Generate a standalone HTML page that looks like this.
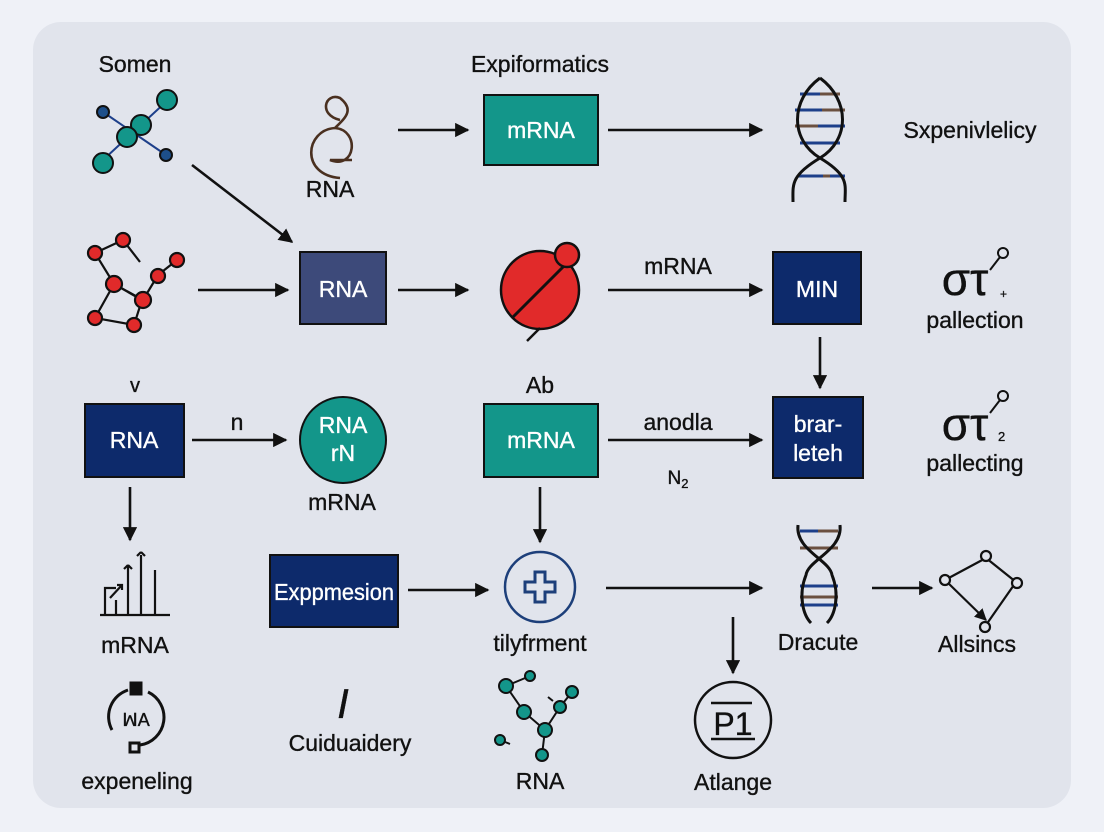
<!DOCTYPE html>
<html><head><meta charset="utf-8"><style>
html,body{margin:0;padding:0;background:#eff1f7;}
svg{display:block;}
text{font-family:"Liberation Sans",sans-serif;fill:#111;stroke:#111;stroke-width:0.35px;}
</style></head><body>
<svg width="1104" height="832" viewBox="0 0 1104 832" xmlns="http://www.w3.org/2000/svg">
<defs>
<marker id="a" viewBox="0 0 10 10" refX="9" refY="5" markerWidth="5.5" markerHeight="5.5" orient="auto"><path d="M0,0L10,5L0,10z" fill="#111"/></marker>
</defs>
<rect x="0" y="0" width="1104" height="832" fill="#eff1f7"/>
<rect x="33" y="22" width="1038" height="786" rx="28" fill="#e1e4ec"/>
<g stroke="#111" stroke-width="2.6" fill="none" marker-end="url(#a)">
<line x1="398" y1="130" x2="468" y2="130"/>
<line x1="608" y1="130" x2="762" y2="130"/>
<line x1="192" y1="165" x2="292" y2="242"/>
<line x1="198" y1="290" x2="288" y2="290"/>
<line x1="398" y1="290" x2="468" y2="290"/>
<line x1="608" y1="290" x2="762" y2="290"/>
<line x1="820" y1="337" x2="820" y2="388"/>
<line x1="192" y1="440" x2="286" y2="440"/>
<line x1="608" y1="440" x2="762" y2="440"/>
<line x1="130" y1="487" x2="130" y2="540"/>
<line x1="540" y1="487" x2="540" y2="542"/>
<line x1="408" y1="590" x2="488" y2="590"/>
<line x1="606" y1="588" x2="762" y2="588"/>
<line x1="872" y1="588" x2="932" y2="588"/>
<line x1="733" y1="617" x2="733" y2="673"/>
</g>
<g font-size="23" text-anchor="middle">
<text x="135" y="72">Somen</text>
<text x="540" y="72">Expiformatics</text>
<text x="330" y="197">RNA</text>
<text x="970" y="138">Sxpenivlelicy</text>
<text x="678" y="274">mRNA</text>
<text x="975" y="328">pallection</text>
<text x="135" y="392" font-size="20">v</text>
<text x="237" y="430">n</text>
<text x="342" y="510">mRNA</text>
<text x="540" y="393">Ab</text>
<text x="678" y="430">anodla</text>
<text x="678" y="484" font-size="19">N<tspan font-size="13" dy="4">2</tspan></text>
<text x="975" y="471">pallecting</text>
<text x="135" y="653">mRNA</text>
<text x="540" y="651">tilyfrment</text>
<text x="818" y="650">Dracute</text>
<text x="977" y="652">Allsincs</text>
<text x="137" y="789">expeneling</text>
<text x="350" y="751">Cuiduaidery</text>
<text x="540" y="789">RNA</text>
<text x="733" y="790">Atlange</text>
</g>
<text x="343" y="718" font-family="Liberation Serif" font-style="italic" font-size="42" text-anchor="middle">I</text>
<text x="965" y="295" font-family="Liberation Serif" font-size="46" text-anchor="middle">στ</text>
<text x="965" y="440" font-family="Liberation Serif" font-size="46" text-anchor="middle">στ</text>
<text x="1000" y="298" font-size="12">+</text><text x="998" y="441" font-size="13">2</text>
<circle cx="1003" cy="253" r="5" fill="none" stroke="#111" stroke-width="2"/><line x1="1000" y1="257" x2="990" y2="270" stroke="#111" stroke-width="2"/>
<circle cx="1003" cy="396" r="5" fill="none" stroke="#111" stroke-width="2"/><line x1="1000" y1="400" x2="990" y2="413" stroke="#111" stroke-width="2"/>
<g style="--w:1">
<rect x="484" y="95" width="114" height="70" fill="#13968a" stroke="#111" stroke-width="2"/>
<text x="541" y="138" font-size="23" text-anchor="middle" style="fill:#fff;stroke:#fff">mRNA</text>
<rect x="300" y="252" width="86" height="72" fill="#3d4a7a" stroke="#111" stroke-width="2"/>
<text x="343" y="297" font-size="23" text-anchor="middle" style="fill:#fff;stroke:#fff">RNA</text>
<rect x="773" y="252" width="88" height="72" fill="#0d2a6b" stroke="#111" stroke-width="2"/>
<text x="817" y="297" font-size="23" text-anchor="middle" style="fill:#fff;stroke:#fff">MIN</text>
<rect x="85" y="404" width="99" height="73" fill="#0d2a6b" stroke="#111" stroke-width="2"/>
<text x="134" y="448" font-size="23" text-anchor="middle" style="fill:#fff;stroke:#fff">RNA</text>
<rect x="484" y="404" width="114" height="73" fill="#13968a" stroke="#111" stroke-width="2"/>
<text x="541" y="448" font-size="23" text-anchor="middle" style="fill:#fff;stroke:#fff">mRNA</text>
<rect x="773" y="397" width="90" height="81" fill="#0d2a6b" stroke="#111" stroke-width="2"/>
<text x="818" y="432" font-size="23" text-anchor="middle" style="fill:#fff;stroke:#fff">brar-</text>
<text x="818" y="461" font-size="23" text-anchor="middle" style="fill:#fff;stroke:#fff">leteh</text>
<rect x="270" y="555" width="128" height="72" fill="#0d2a6b" stroke="#111" stroke-width="2"/>
<text x="334" y="600" font-size="23" text-anchor="middle" style="fill:#fff;stroke:#fff" textLength="120" lengthAdjust="spacingAndGlyphs">Exppmesion</text>
<circle cx="343" cy="440" r="43" fill="#13968a" stroke="#111" stroke-width="2"/>
<text x="343" y="433" font-size="23" text-anchor="middle" style="fill:#fff;stroke:#fff">RNA</text>
<text x="343" y="461" font-size="23" text-anchor="middle" style="fill:#fff;stroke:#fff">rN</text>
</g>
<circle cx="540" cy="290" r="39" fill="#e12a2a" stroke="#111" stroke-width="2.5"/>
<line x1="512" y1="318" x2="570" y2="260" stroke="#111" stroke-width="3"/>
<circle cx="567" cy="255" r="12" fill="#e12a2a" stroke="#111" stroke-width="2.5"/>
<line x1="540" y1="328" x2="527" y2="341" stroke="#111" stroke-width="2.5"/>
<circle cx="540" cy="587" r="35" fill="none" stroke="#1d3f7a" stroke-width="2.5"/>
<path d="M535 572h10v10h10v10h-10v10h-10v-10h-10v-10h10z" fill="none" stroke="#1d3f7a" stroke-width="3"/>
<circle cx="733" cy="720" r="38" fill="none" stroke="#111" stroke-width="2.5"/>
<text x="733" y="735" font-size="32" text-anchor="middle">P1</text>
<line x1="711" y1="703" x2="752" y2="703" stroke="#111" stroke-width="2.5"/>
<line x1="711" y1="739" x2="755" y2="739" stroke="#111" stroke-width="2.5"/>
<path d="M340 178 C300 175 305 130 335 128 C360 130 356 170 330 160 L352 160 M335 128 C345 118 355 110 340 98 C325 92 318 115 340 120" fill="none" stroke="#4a3020" stroke-width="2.6"/>
<g stroke="#1d3f8a" stroke-width="2"><line x1="103" y1="112" x2="166" y2="155"/><line x1="103" y1="160" x2="168" y2="100"/></g>
<g stroke="#111" stroke-width="2">
<circle cx="103" cy="112" r="6" fill="#1d4f8a"/><circle cx="166" cy="155" r="6" fill="#1d4f8a"/>
<circle cx="167" cy="100" r="10" fill="#13968a"/><circle cx="141" cy="125" r="10" fill="#13968a"/><circle cx="127" cy="137" r="10" fill="#13968a"/><circle cx="103" cy="163" r="10" fill="#13968a"/>
</g>
<g stroke="#111" stroke-width="2.2" fill="#e12a2a">
<path d="M95 253L123 240L140 262M95 253L114 284L143 300L158 275L177 260M114 284L142 300L134 325L95 318z" fill="none"/>
<circle cx="95" cy="253" r="7"/><circle cx="123" cy="240" r="7"/><circle cx="177" cy="260" r="7"/><circle cx="158" cy="276" r="7"/><circle cx="114" cy="284" r="8"/><circle cx="143" cy="300" r="8"/><circle cx="95" cy="318" r="7"/><circle cx="134" cy="325" r="7"/>
</g>
<g fill="none" stroke-width="3">
<g stroke="#1d3f8a"><line x1="800" y1="94" x2="840" y2="94"/><line x1="795" y1="110" x2="845" y2="110"/><line x1="795" y1="126" x2="845" y2="126"/><line x1="800" y1="143" x2="840" y2="143"/><line x1="798" y1="176" x2="845" y2="176"/></g>
<g stroke="#6b5040"><line x1="820" y1="94" x2="840" y2="94"/><line x1="822" y1="110" x2="845" y2="110"/><line x1="795" y1="126" x2="818" y2="126"/><line x1="823" y1="176" x2="830" y2="176"/></g>
<path d="M820 78C790 100 790 140 820 158C850 176 845 185 845 202M820 78C850 100 850 140 820 158C790 176 793 185 793 202" stroke="#111"/>
</g>
<g fill="none" stroke-width="3">
<g stroke="#1d3f8a"><line x1="800" y1="531" x2="838" y2="531"/><line x1="800" y1="586" x2="838" y2="586"/><line x1="800" y1="605" x2="838" y2="605"/></g>
<g stroke="#6b5040"><line x1="818" y1="531" x2="838" y2="531"/><line x1="800" y1="548" x2="838" y2="548"/><line x1="800" y1="597" x2="838" y2="597"/></g>
<path d="M798 525C795 550 830 560 832 575C840 595 835 615 827 623M840 525C843 550 808 560 806 575C798 595 803 615 811 623" stroke="#111"/>
</g>
<g stroke="#111" stroke-width="2.2" fill="none">
<path d="M945 580L986 558L1016 582L986 625M945 580L986 620" marker-end="url(#a)"/>
<circle cx="945" cy="580" r="5" fill="#e1e4ec"/><circle cx="986" cy="556" r="5" fill="#e1e4ec"/><circle cx="1017" cy="583" r="5" fill="#e1e4ec"/><circle cx="985" cy="627" r="5" fill="#e1e4ec"/>
</g>
<g stroke="#111" stroke-width="2.2" fill="none">
<line x1="100" y1="615" x2="170" y2="615"/>
<path d="M105 615V588H116M116 615V600M128 615V565M141 615V555M155 615V570M110 598L122 585M117 585h5v5M128 565l-4 4M128 565l4 4M141 552l-4 4M141 552l4 4"/>
</g>
<g stroke="#111" stroke-width="3" fill="none">
<path d="M112 730A28 28 0 0 1 128 690M148 692A28 28 0 0 1 140 745"/>
<rect x="131" y="683" width="10" height="11" fill="#111"/><rect x="130" y="743" width="9" height="9"/>
</g>
<text x="136" y="726" font-size="18" text-anchor="middle">ꟽA</text>
<g stroke="#111" stroke-width="2" fill="#13968a">
<path d="M506 686L530 676M506 686L524 712L545 730L560 707L572 692M545 730L542 755M505 742l5 2M548 697l5 4" fill="none"/>
<circle cx="506" cy="686" r="7"/><circle cx="530" cy="676" r="5"/><circle cx="524" cy="712" r="7"/><circle cx="545" cy="730" r="7"/><circle cx="560" cy="707" r="6"/><circle cx="572" cy="692" r="6"/><circle cx="542" cy="755" r="6"/><circle cx="500" cy="740" r="5"/>
</g>
</svg>
</body></html>
